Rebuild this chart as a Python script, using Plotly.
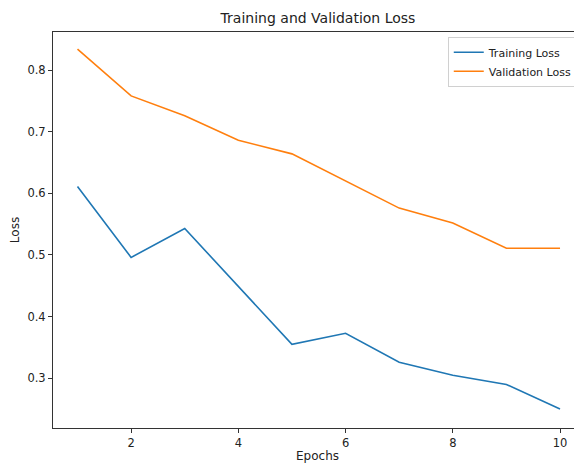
import plotly.graph_objects as go

epochs = [1, 2, 3, 4, 5, 6, 7, 8, 9, 10]
training_loss = [0.611, 0.496, 0.543, 0.449, 0.355, 0.373, 0.326, 0.305, 0.290, 0.250]
validation_loss = [0.834, 0.758, 0.726, 0.686, 0.664, 0.620, 0.576, 0.552, 0.511, 0.511]
x_ticks = [2, 4, 6, 8, 10]
y_ticks = [0.3, 0.4, 0.5, 0.6, 0.7, 0.8]

font = "DejaVu Sans"
W, H = 574, 456
fig = go.Figure()
fig.add_trace(go.Scatter(x=epochs, y=training_loss, mode="lines", name="Training Loss",
                         line=dict(color="#1f77b4", width=1.6)))
fig.add_trace(go.Scatter(x=epochs, y=validation_loss, mode="lines", name="Validation Loss",
                         line=dict(color="#ff7f0e", width=1.6)))

fig.update_layout(
    width=W, height=H,
    margin=dict(l=45, r=0, t=24, b=36, autoexpand=False),
    plot_bgcolor="white", paper_bgcolor="white",
    font=dict(family=font, size=11.5, color="#222"),
    title=dict(text="Training and Validation Loss", x=310 / W, xanchor="center",
               y=1 - 10 / H, yanchor="middle", font=dict(size=14, color="#222")),
    showlegend=True,
    legend=dict(x=0.992, y=0.988, xanchor="right", yanchor="top",
                bgcolor="rgba(255,255,255,0.8)", bordercolor="#d0d0d0", borderwidth=1,
                font=dict(size=11), tracegroupgap=0, itemwidth=30),
)
fig.update_xaxes(range=[0.543, 10.41], tickvals=x_ticks, showgrid=False, zeroline=False,
                 showline=True, linecolor="#333", linewidth=1, mirror=True,
                 ticks="outside", ticklen=4, tickcolor="#333",
                 title=dict(text="Epochs", standoff=2, font=dict(size=12)))
fig.update_yaxes(range=[0.2193, 0.8617], tickvals=y_ticks, tickformat=".1f",
                 showgrid=False, zeroline=False,
                 showline=True, linecolor="#333", linewidth=1,
                 ticks="outside", ticklen=4, tickcolor="#333",
                 title=dict(text="Loss", standoff=8, font=dict(size=12)))

fig.write_html("out.html")
